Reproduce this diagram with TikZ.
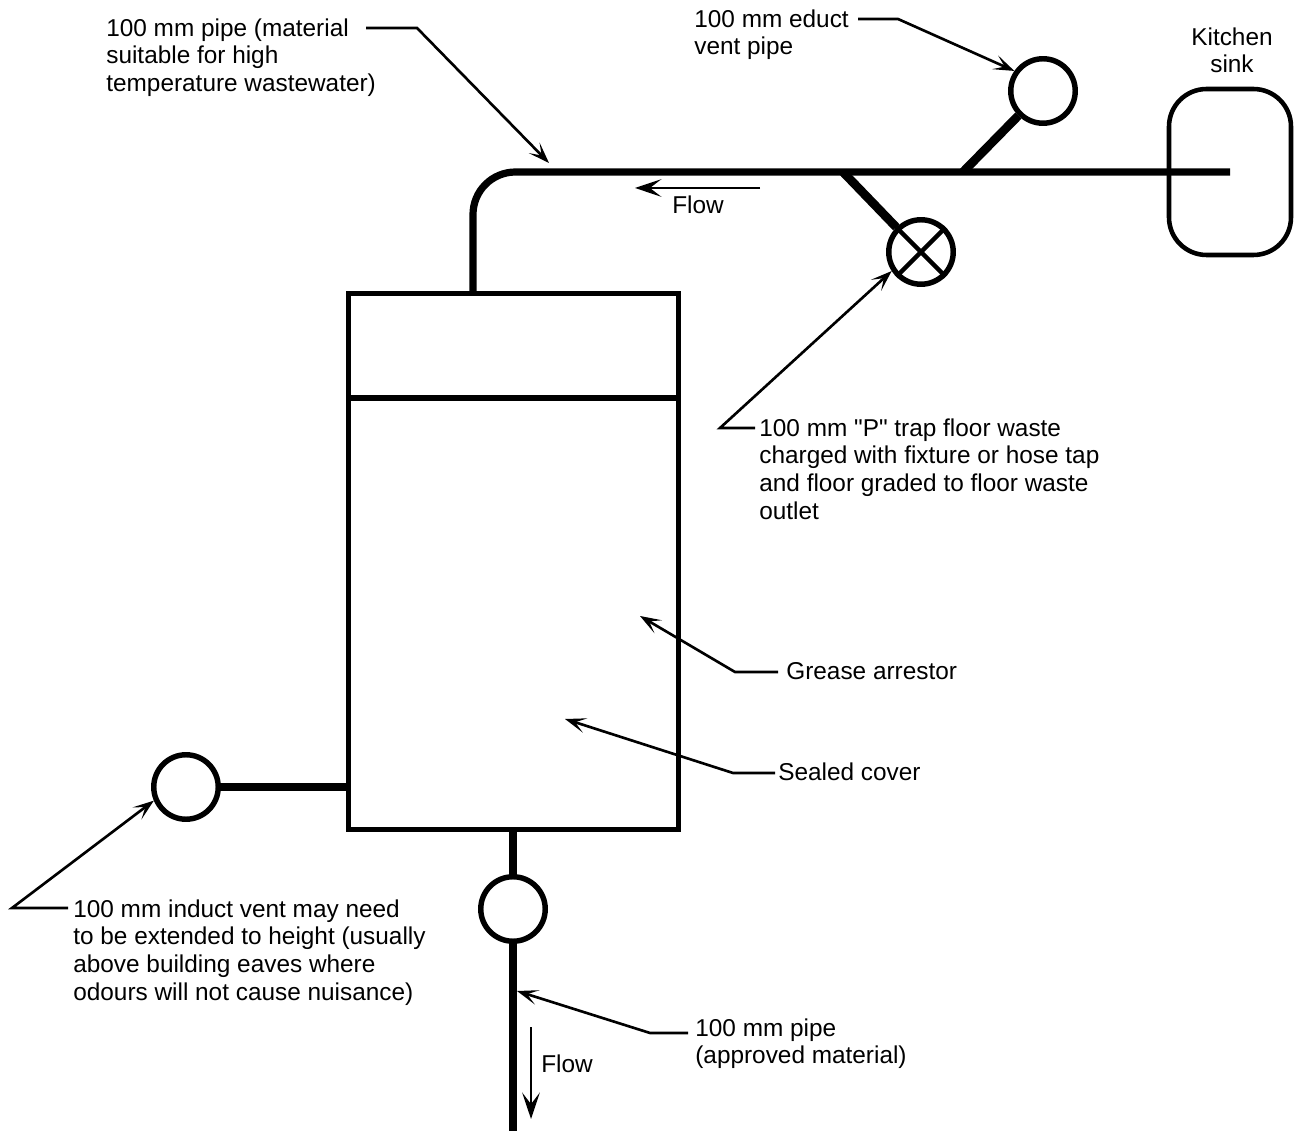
\documentclass[tikz,border=0pt]{standalone}
\usepackage{fontspec}
\newfontfamily\notefont{Liberation Sans}
\usetikzlibrary{arrows.meta}
\tikzset{ note_text/.style = {align=left, inner sep=0pt, anchor=north west, font=\notefont\fontsize{13.87}{15.9}\selectfont} }
\tikzset{ pipe_fitting/.style = {circle, draw, line width=3.1pt, minimum size=1.29cm, inner sep=0pt} }
\tikzset{ pipe_run/.style = {line width=4.1pt} }
\tikzset{ pipe_branch/.style = {line width=5pt} }
\tikzset{ leader_line/.style = {line width=1.5pt, -{Stealth[length=12pt,width=8.5pt,inset=6pt]}} }
\tikzset{ flow_line/.style = {line width=1.4pt, -{Stealth[length=15pt,width=10pt,inset=6.5pt]}} }

\begin{document}
\begin{tikzpicture}[x=0.02cm,y=-0.02cm]
        \useasboundingbox (0,0) rectangle (1306,1131);
        % tank and sink
        \node[draw, line width=3.1pt, minimum width=6.6cm, minimum height=10.72cm] (arrestor) at (513.5,561.5) {};
        \node[draw, line width=2.6pt, rounded corners=0.75cm, minimum width=2.44cm, minimum height=3.32cm] (sink) at (1230,172) {};
        \coordinate (divider_l) at (350,398);
        \coordinate (divider_r) at (677,398);
        \draw[line width=3.3pt] (divider_l) -- (divider_r);
        % fittings
        \node[pipe_fitting] (educt) at (1043,91) {};
        \node[pipe_fitting] (trap) at (921,252) {};
        \node[pipe_fitting] (induct) at (186,787) {};
        \node[pipe_fitting] (lower) at (513,909) {};
        \draw[line width=2.6pt] (trap.45) -- (trap.225);
        \draw[line width=2.6pt] (trap.135) -- (trap.315);
        % pipes
        \coordinate (sink_end) at (1230,172);
        \coordinate (educt_tee) at (963,172);
        \coordinate (trap_tee) at (843,172);
        \coordinate (outlet_end) at (513,1131);
        \draw[pipe_run, rounded corners=0.85cm] (sink_end) -- (473,172) -- (473,295);
        \draw[pipe_branch] (educt_tee) -- (educt.225);
        \draw[pipe_branch] (trap_tee) -- (trap.135);
        \draw[pipe_run] (induct.east) -- (arrestor.west |- induct);
        \draw[pipe_run] (lower.north) -- (arrestor.south -| lower);
        \draw[pipe_run] (lower.south) -- (outlet_end);
        % labels
        \node[note_text] (main_note) at (106,18) {100 mm pipe (material\\suitable for high\\temperature wastewater)};
        \node[note_text] (educt_note) at (694,9) {100 mm educt\\vent pipe};
        \node[note_text, align=center, anchor=north] (sink_note) at (1232,27) {Kitchen\\sink};
        \node[note_text] (trap_note) at (759,418) {100 mm "P" trap floor waste\\charged with fixture or hose tap\\and floor graded to floor waste\\outlet};
        \node[note_text] (grease_note) at (786,662) {Grease arrestor};
        \node[note_text] (cover_note) at (778,762) {Sealed cover};
        \node[note_text] (induct_note) at (73,899) {100 mm induct vent may need\\to be extended to height (usually\\above building eaves where\\odours will not cause nuisance)};
        \node[note_text] (outlet_note) at (695,1018) {100 mm pipe\\(approved material)};
        \node[note_text] (flow_top) at (672,195) {Flow};
        \node[note_text] (flow_low) at (541,1054) {Flow};
        % leaders
        \coordinate (main_a) at (366,28);
        \coordinate (main_b) at (417,28);
        \coordinate (main_tip) at (549,163);
        \draw[leader_line] (main_a) -- (main_b) -- (main_tip);
        \coordinate (educt_a) at (858,19);
        \coordinate (educt_b) at (898,19);
        \draw[leader_line] (educt_a) -- (educt_b) -- (educt.145);
        \coordinate (trap_a) at (755,428);
        \coordinate (trap_b) at (720,428);
        \draw[leader_line] (trap_a) -- (trap_b) -- (trap.213);
        \coordinate (grease_a) at (778,672);
        \coordinate (grease_b) at (735,672);
        \coordinate (grease_tip) at (640,616);
        \draw[leader_line] (grease_a) -- (grease_b) -- (grease_tip);
        \coordinate (cover_a) at (775,773);
        \coordinate (cover_b) at (733,773);
        \coordinate (cover_tip) at (565,719);
        \draw[leader_line] (cover_a) -- (cover_b) -- (cover_tip);
        \coordinate (induct_a) at (68,908);
        \coordinate (induct_b) at (12,908);
        \draw[leader_line] (induct_a) -- (induct_b) -- (induct.203);
        \coordinate (outlet_a) at (688,1033);
        \coordinate (outlet_b) at (650,1033);
        \coordinate (outlet_tip) at (517,991);
        \draw[leader_line] (outlet_a) -- (outlet_b) -- (outlet_tip);
        % flow arrows
        \coordinate (flow_top_a) at (760,188);
        \coordinate (flow_top_b) at (635,188);
        \coordinate (flow_low_a) at (531,1027);
        \coordinate (flow_low_b) at (531,1119);
        \draw[flow_line] (flow_top_a) -- (flow_top_b);
        \draw[flow_line] (flow_low_a) -- (flow_low_b);
\end{tikzpicture}
\end{document}
